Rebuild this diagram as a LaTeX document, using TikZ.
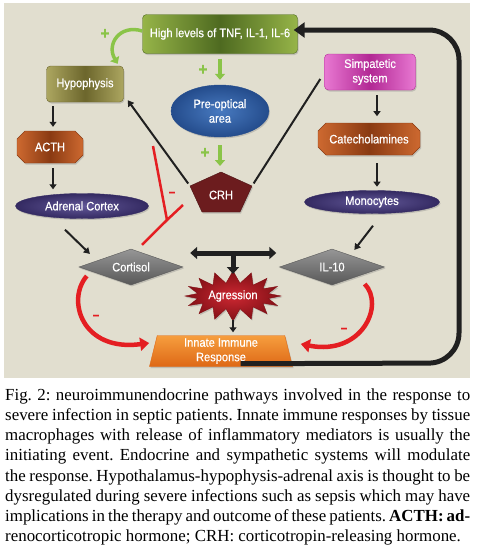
\documentclass[tikz,border=0pt]{standalone}
\usepackage{fontspec}
\setmainfont{Liberation Serif}
\newfontfamily\diagfont[FakeStretch=0.9,FakeBold=0.6]{Liberation Sans}
\usetikzlibrary{shapes.geometric,shapes.symbols,shapes.misc,arrows.meta,shadows,calc}
\definecolor{bgc}{RGB}{225,222,207}
\definecolor{greenL}{RGB}{150,180,72}
\definecolor{greenD}{RGB}{78,106,32}
\definecolor{oliveL}{RGB}{172,166,96}
\definecolor{oliveD}{RGB}{108,102,44}
\definecolor{rustL}{RGB}{205,105,48}
\definecolor{rustD}{RGB}{138,58,18}
\definecolor{magL}{RGB}{232,120,210}
\definecolor{magD}{RGB}{178,40,148}
\definecolor{blueL}{RGB}{72,122,192}
\definecolor{blueD}{RGB}{36,76,140}
\definecolor{purL}{RGB}{98,88,152}
\definecolor{purD}{RGB}{52,42,98}
\definecolor{crhC}{RGB}{108,28,30}
\definecolor{greyL}{RGB}{150,150,150}
\definecolor{greyD}{RGB}{88,88,88}
\definecolor{starL}{RGB}{205,40,50}
\definecolor{starD}{RGB}{130,16,22}
\definecolor{orL}{RGB}{246,158,62}
\definecolor{orD}{RGB}{222,104,22}
\definecolor{arrG}{RGB}{138,196,72}
\definecolor{redA}{RGB}{228,30,34}
\definecolor{blk}{RGB}{32,32,32}
\tikzset{
  lab/.style={font=\diagfont\fontsize{12.3}{14.5}\selectfont, text=white, align=center, inner sep=0pt},
  shad/.style={drop shadow={opacity=0.35,shadow xshift=1pt,shadow yshift=-1.5pt}},
  rbox/.style={lab, shad, rectangle, rounded corners=4pt, draw=#1D, left color=#1L, right color=#1L, middle color=#1D},
  cbox/.style={lab, shad, chamfered rectangle, chamfered rectangle xsep=4pt, chamfered rectangle ysep=4pt, draw=#1D, left color=#1L, right color=#1L, middle color=#1D},
  ell/.style={lab, shad, ellipse, draw=#1D, inner color=#1L, outer color=#1D},
  dia/.style={lab, shad, diamond, aspect=2.9, draw=greyD, top color=greyL, bottom color=greyD},
  plus/.style={font=\diagfont\bfseries\fontsize{17}{17}\selectfont, text=arrG, inner sep=0pt},
  minus/.style={font=\diagfont\bfseries\fontsize{13}{13}\selectfont, text=redA, inner sep=0pt},
  garrow/.style={draw=arrG, line width=3.5pt, -{Triangle[width=10pt,length=6pt]}},
  barrow/.style={draw=blk, line width=2pt, -{Triangle[width=7pt,length=6pt]}},
  sarrow/.style={draw=blk, line width=2.5pt, -{Triangle[width=7pt,length=5pt]}},
  bline/.style={draw=blk, line width=2pt},
  rline/.style={draw=redA, line width=2.5pt},
  rarrow/.style={draw=redA, line width=4.5pt, -{Triangle[width=13pt,length=9pt]}},
  darrow/.style={draw=blk, line width=5pt, {Triangle[width=12pt,length=7pt]}-{Triangle[width=12pt,length=7pt]}},
  dstem/.style={draw=blk, line width=5pt, -{Triangle[width=12pt,length=7pt]}},
  fb/.style={draw=blk, line width=5pt, rounded corners=30pt, -{Triangle[width=15pt,length=11pt]}},
  capl/.style={anchor=base west, inner sep=0pt, font=\fontsize{16.9}{20.25}\selectfont}
}
\begin{document}
\frenchspacing
\begin{tikzpicture}[x=1pt,y=-1pt]
\useasboundingbox (0,0) rectangle (477,546);
\fill[bgc] (4,3) rectangle (470,378);

% nodes
\node[rbox=green, minimum width=155pt, minimum height=39pt] (hi) at (220,34) {High levels of TNF, IL-1, IL-6};
\node[rbox=olive, minimum width=77pt, minimum height=36pt] (hyp) at (85,84) {Hypophysis};
\node[rbox=mag, minimum width=91pt, minimum height=36pt] (simp) at (370,72) {Simpatetic\\system};
\node[cbox=rust, minimum width=66pt, minimum height=32pt] (acth) at (50,147) {ACTH};
\node[cbox=rust, minimum width=102pt, minimum height=32pt] (cat) at (369,139) {Catecholamines};
\node[ell=blue, minimum width=98pt, minimum height=52pt] (pre) at (220,111) {Pre-optical\\area};
\node[ell=pur, minimum width=135pt, minimum height=23pt] (mono) at (372,202) {Monocytes};
\node[ell=pur, minimum width=133pt, minimum height=25pt] (adr) at (82,206) {Adrenal Cortex};
\coordinate (crhT) at (221,172);
\coordinate (crhUR) at (252,186);
\coordinate (crhBR) at (240,212);
\coordinate (crhBL) at (202,212);
\coordinate (crhUL) at (190,186);
\path[fill=crhC, draw=crhC!70!black, shad] (crhT) -- (crhUR) -- (crhBR) -- (crhBL) -- (crhUL) -- cycle;
\node[lab] (crh) at (221,195) {CRH};
\node[dia, minimum width=104pt, minimum height=36pt] (cort) at (131,267) {Cortisol};
\node[dia, minimum width=105pt, minimum height=36pt] (il) at (332,267) {IL-10};
\node[lab, shad, starburst, starburst points=16, starburst point height=12pt, random starburst=0, draw=starD, inner color=starL, outer color=starD, minimum width=96pt, minimum height=50pt] (agr) at (233,296) {Agression};
\node[lab, shad, trapezium, trapezium left angle=80, trapezium right angle=80, trapezium stretches=true, draw=orD, top color=orL, bottom color=orD, minimum width=144pt, minimum height=31pt] (inn) at (221,351) {Innate Immune\\Response};

% signs
\node[plus] (p1) at (105,34) {+};
\node[plus] (p2) at (203,70) {+};
\node[plus] (p3) at (205,153) {+};
\node[minus] (m1) at (172,194) {–};
\node[minus] (m2) at (96,317) {–};
\node[minus] (m3) at (344,330) {–};

% green connectors
\draw[garrow] ([yshift=3pt]hi.west) .. controls (120,24) and (106,44) .. ($(hyp.north east)+(-6,-2)$);
\draw[garrow, shorten <=5pt, shorten >=5pt] (hi.south) -- (pre.north);
\draw[garrow, shorten <=8pt, shorten >=6pt] (pre.south) -- (pre.south |- crhT);

% black connectors
\draw[barrow, shorten <=3pt] (crhUL) -- ($(hyp.south east)+(4,-2)$);
\draw[bline, shorten <=3pt] (crhUR) -- ($(simp.west)+(-4,7)$);
\draw[sarrow, shorten <=4pt, shorten >=4pt] ($(acth.north |- hyp.south)+(3,0)$) -- ($(acth.north)+(3,0)$);
\draw[sarrow, shorten <=5pt, shorten >=4pt] ($(acth.south)+(3,0)$) -- ($(acth.south |- adr.north)+(3,0)$);
\draw[barrow] ($(adr.south)+(-17,11)$) -- ($(cort.north west)+(-15,-4)$);
\draw[sarrow, shorten <=5pt, shorten >=7pt] ($(simp.south)+(7,0)$) -- ($(simp.south -| cat.north)+(8,33)$);
\draw[sarrow, shorten <=8pt, shorten >=4pt] ($(cat.south)+(8,0)$) -- ($(cat.south -| mono.north)+(5,35.5)$);
\draw[barrow] ($(mono.south)+(1,12)$) -- ($(il.north east)+(-4,-8)$);

% red inhibition
\coordinate (rj) at (167,220);
\coordinate (rtop) at (153,146);
\draw[rline] ($(cort.north)+(11,-4)$) -- (rj) -- ($(crhUL)+(-7,19)$);
\draw[rline] (rj) -- (rtop);

% cortisol / IL-10 double arrow and stem
\coordinate (dl) at ($(cort.east)+(7,-14)$);
\coordinate (dr) at ($(il.west)+(-3,-14)$);
\coordinate (dm) at (233,253);
\coordinate (agtop) at (233,276);
\coordinate (agbot) at (233,320);
\draw[darrow] (dl) -- (dr);
\draw[dstem, shorten >=2pt] (dm) -- (agtop);
\draw[sarrow, shorten >=3pt] (agbot) -- (agbot |- inn.north);

% red curved arrows
\draw[rarrow] ($(cort.west)+(8,9)$) .. controls (66,300) and (82,352) .. ($(inn.west)+(-4,-8)$);
\draw[rarrow] ($(il.east)+(-20,17)$) .. controls (385,305) and (362,356) .. ($(inn.east)+(12,-7)$);

% feedback
\coordinate (fbBR) at (459,363);
\coordinate (fbTR) at (459,30);
\draw[fb, shorten >=-4pt] ($(inn.south east)+(4,-3)$) -- (fbBR) -- (fbTR) -- ([yshift=4pt]hi.east);

% caption
\node[capl] (c1) at (5,400) {\makebox[465pt][s]{Fig. 2: neuroimmunendocrine pathways involved in the response to}};
\node[capl] (c2) at (5,420.25) {\makebox[465pt][s]{severe infection in septic patients. Innate immune responses by tissue}};
\node[capl] (c3) at (5,440.5) {\makebox[465pt][s]{macrophages with release of inflammatory mediators is usually the}};
\node[capl] (c4) at (5,460.75) {\makebox[465pt][s]{initiating event. Endocrine and sympathetic systems will modulate}};
\node[capl] (c5) at (5,481) {\makebox[465pt][s]{the response. Hypothalamus-hypophysis-adrenal axis is thought to be}};
\node[capl] (c6) at (5,501.25) {\makebox[465pt][s]{dysregulated during severe infections such as sepsis which may have}};
\node[capl] (c7) at (5,521.5) {\makebox[465pt][s]{implications in the therapy and outcome of these patients. \textbf{ACTH: ad-}}};
\node[capl] (c8) at (5,541.75) {renocorticotropic hormone; CRH: corticotropin-releasing hormone.};
\end{tikzpicture}
\end{document}
